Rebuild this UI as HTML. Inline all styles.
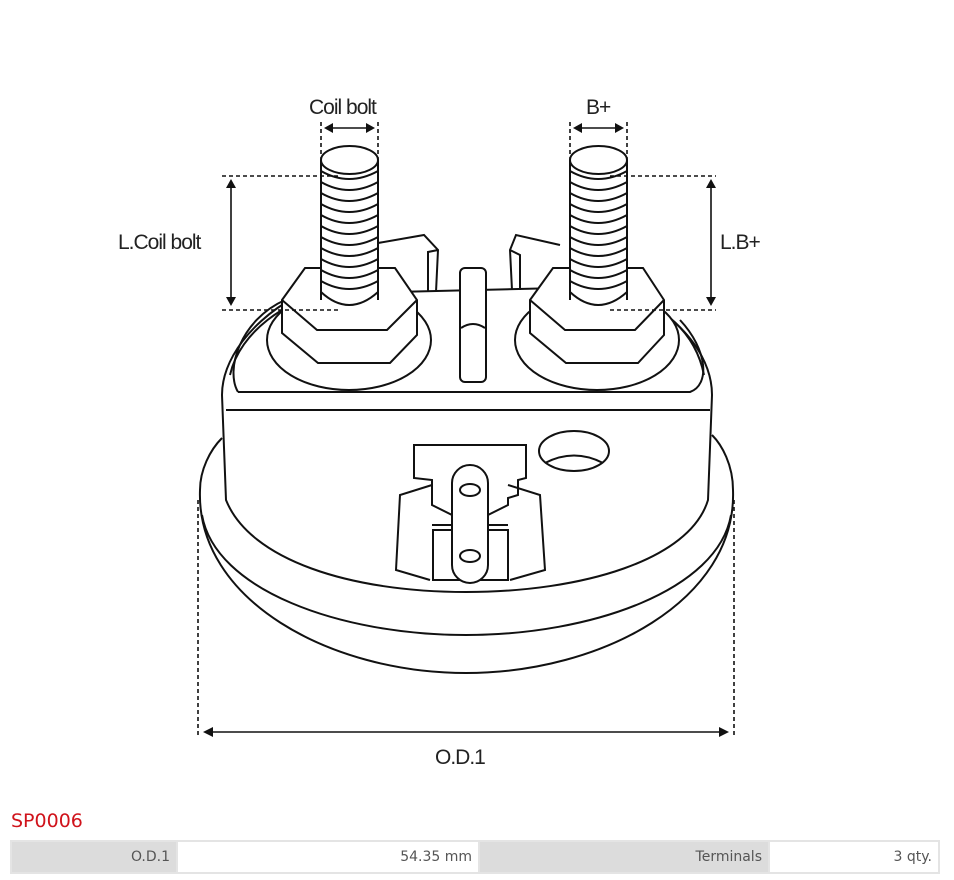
<!DOCTYPE html>
<html><head><meta charset="utf-8"><style>
body{margin:0;background:#fff;width:954px;height:880px;overflow:hidden;font-family:"DejaVu Sans","Liberation Sans",sans-serif}
svg{position:absolute;left:0;top:0}
.t{position:absolute;left:11px;top:810px;color:#d0131b;font-size:19px}
table{position:absolute;left:10px;top:840px;width:930px;border-collapse:separate;border-spacing:2px;background:#e4e4e4;font-size:14px;color:#555}
td{height:30px;padding:0 6px;text-align:right}
.g{background:#dcdcdc}.w{background:#fff}
</style></head><body>
<svg width="954" height="800" viewBox="0 0 954 800" fill="none" stroke="#111" stroke-width="2">
<!-- flange -->
<path d="M200,490 C196,600 330,673 466,673 C602,673 737,600 733,490 C733,465 722,445 712,435"/>
<path d="M200,490 C200,470 210,450 222,438"/>
<path d="M202,515 C215,590 340,635 466,635 C592,635 718,590 731,515"/>
<!-- body -->
<path d="M222,395 L226,500 C250,560 350,592 466,592 C582,592 690,560 708,500 L712,395"/>
<path d="M222,395 C222,340 290,290 330,285 M712,395 C712,340 650,295 610,288"/>
<path d="M230,375 C240,330 290,300 320,295 M704,375 C695,330 660,305 630,298"/>
<path d="M238,392 L690,392 C710,385 708,350 680,320 M238,392 C225,370 240,320 285,300"/>
<path d="M226,410 L710,410"/>
<!-- top plate -->
<path d="M395,292 L560,288"/>
<path d="M378,243 L424,235 L438,250 L436,292 M428,292 L428,252 L438,250"/>
<path d="M560,245 L516,235 L510,250 L512,290 M520,290 L520,255 L510,250"/>
<rect x="460" y="268" width="26" height="114" rx="5" fill="#fff"/>
<path d="M461,328 Q473,320 485,328"/>
<!-- left boss -->
<ellipse cx="349" cy="340" rx="82" ry="50" fill="#fff"/>
<path d="M282,300 L305,268 L395,268 L417,300 L417,335 L390,363 L318,363 L282,333 Z" fill="#fff"/>
<path d="M282,300 L317,330 L387,330 L417,300"/>
<!-- right boss -->
<ellipse cx="597" cy="340" rx="82" ry="50" fill="#fff"/>
<path d="M530,300 L553,268 L643,268 L664,300 L664,335 L638,363 L566,363 L530,333 Z" fill="#fff"/>
<path d="M530,300 L565,330 L635,330 L664,300"/>
<!-- bolts -->
<g id="b">
<path d="M321,160 L321,300 Q349,320 378,300 L378,160 Z" fill="#fff" stroke="none"/>
<path d="M321,160 L321,300 M378,160 L378,300"/>
<ellipse cx="349.5" cy="160" rx="28.5" ry="14" fill="#fff"/>
<path d="M321,171 Q349,187 378,171 M321,182 Q349,198 378,182 M321,193 Q349,209 378,193 M321,204 Q349,220 378,204 M321,215 Q349,231 378,215 M321,226 Q349,242 378,226 M321,237 Q349,253 378,237 M321,248 Q349,264 378,248 M321,259 Q349,275 378,259 M321,270 Q349,286 378,270 M321,281 Q349,297 378,281 M321,292 Q349,318 378,292"/>
</g>
<use href="#b" transform="translate(249,0)"/>
<!-- side hole -->
<ellipse cx="574" cy="451" rx="35" ry="20"/>
<path d="M545,463 Q574,448 603,463"/>
<!-- connector -->
<path d="M414,445 L526,445 L526,478 L518,480 L518,495 L508,498 L508,505 L488,515 L488,530 L508,530 L508,580 L433,580 L433,530 L452,530 L452,515 L432,505 L432,480 L414,478 Z"/>
<path d="M432,485 L400,495 L396,570 L430,580 M508,485 L540,495 L545,570 L510,580"/>
<path d="M432,525 L508,525"/>
<rect x="452" y="465" width="36" height="118" rx="18" fill="#fff"/>
<ellipse cx="470" cy="490" rx="10" ry="6"/>
<ellipse cx="470" cy="556" rx="10" ry="6"/>
<!-- dimensions -->
<g stroke-width="1.6" stroke-dasharray="4,3">
<path d="M321,122 V160 M378,122 V160 M570,122 V160 M627,122 V160"/>
<path d="M222,176 H340 M222,310 H340 M610,176 H716 M610,310 H716"/>
<path d="M198,500 V737 M734,500 V737"/>
</g>
<g stroke-width="1.6">
<path d="M330,128 H370 M578,128 H620 M231,186 V300 M711,186 V300 M210,732 H722"/>
</g>
<g fill="#111" stroke="none">
<path d="M324,128 l9,-5 v10z M375,128 l-9,-5 v10z M573,128 l9,-5 v10z M624,128 l-9,-5 v10z"/>
<path d="M231,179 l-5,9 h10z M231,306 l-5,-9 h10z M711,179 l-5,9 h10z M711,306 l-5,-9 h10z"/>
<path d="M203,732 l10,-5 v10z M729,732 l-10,-5 v10z"/>
</g>
<g fill="#222" stroke="none" font-family="Liberation Sans,sans-serif" font-size="21" letter-spacing="-1">
<text x="309" y="114">Coil bolt</text>
<text x="586" y="114">B+</text>
<text x="118" y="249">L.Coil bolt</text>
<text x="720" y="249">L.B+</text>
<text x="435" y="764">O.D.1</text>
</g>
</svg>
<div class="t">SP0006</div>
<table><tr><td class="g" style="width:152px">O.D.1</td><td class="w" style="width:288px">54.35 mm</td><td class="g" style="width:276px">Terminals</td><td class="w">3 qty.</td></tr></table>
</body></html>
